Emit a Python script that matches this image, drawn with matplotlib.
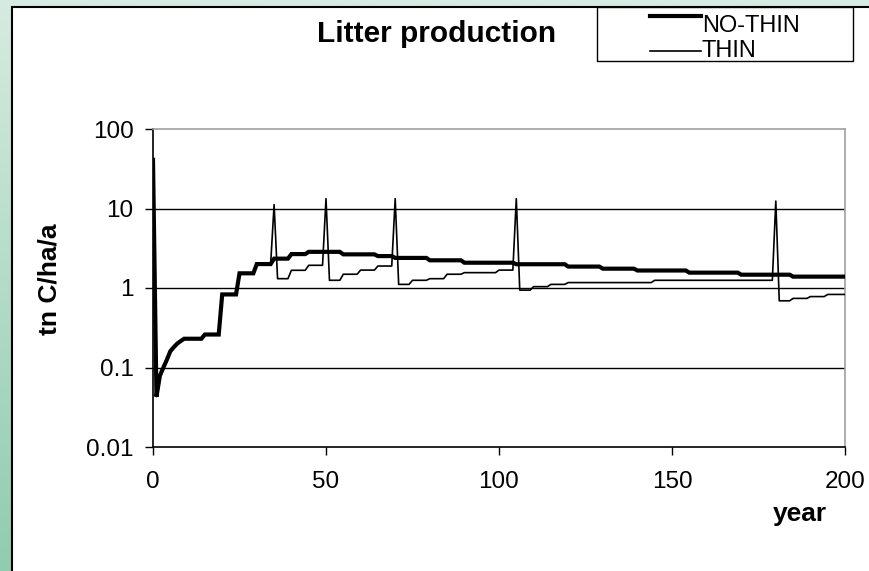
import numpy as np
import matplotlib
matplotlib.use("Agg")
import matplotlib.pyplot as plt
from matplotlib.patches import Rectangle
from matplotlib.lines import Line2D

plt.rcParams['font.family'] = ['Liberation Sans', 'DejaVu Sans']

# ---- data (vertices) ----
series_names = ["NO-THIN", "THIN"]

nothin_years = [0, 1, 2, 3, 4, 5, 6, 7, 8, 9, 14, 15, 19, 20, 24, 25, 29, 30, 34,
                35, 39, 40, 44, 45, 54, 55, 64, 65, 69, 70, 79, 80, 89, 90, 104,
                105, 119, 120, 129, 130, 139, 140, 154, 155, 169, 170, 184, 185, 200]
nothin_vals = [41, 0.043, 0.079, 0.10, 0.125, 0.16, 0.18, 0.20, 0.215, 0.23, 0.23, 0.26, 0.26,
               0.83, 0.83, 1.53, 1.53, 2.0, 2.0,
               2.34, 2.34, 2.67, 2.67, 2.85, 2.85, 2.65, 2.65, 2.52, 2.52, 2.39, 2.39,
               2.23, 2.23, 2.08, 2.08, 1.99, 1.99, 1.86, 1.86, 1.75, 1.75, 1.66, 1.66,
               1.56, 1.56, 1.47, 1.47, 1.39, 1.39]

thin_years = [0, 1, 2, 3, 4, 5, 6, 7, 8, 9, 14, 15, 19, 20, 24, 25, 29, 30, 34,
              35, 36, 39, 40, 44, 45, 49, 50, 51, 54, 55, 59, 60, 64, 65, 69, 70,
              71, 74, 75, 79, 80, 84, 85, 89, 90, 99, 100, 104, 105, 106, 109,
              110, 114, 115, 119, 120, 144, 145, 179, 180, 181, 184, 185, 189,
              190, 194, 195, 200]
thin_vals = [41, 0.043, 0.079, 0.10, 0.125, 0.16, 0.18, 0.20, 0.215, 0.23, 0.23, 0.26, 0.26,
             0.83, 0.83, 1.53, 1.53, 2.0, 2.0,
             11.2, 1.31, 1.31, 1.67, 1.67, 1.93, 1.93, 13.3, 1.25, 1.25, 1.49, 1.49,
             1.68, 1.68, 1.89, 1.89, 13.3,
             1.11, 1.11, 1.25, 1.25, 1.31, 1.31, 1.49, 1.49, 1.56, 1.56, 1.68, 1.68,
             13.3, 0.94, 0.94, 1.04, 1.04, 1.11, 1.11, 1.17, 1.17, 1.25, 1.25,
             12.4, 0.69, 0.69, 0.74, 0.74, 0.78, 0.78, 0.83, 0.83]

x_ticks = [0, 50, 100, 150, 200]
y_ticks = [0.01, 0.1, 1, 10, 100]
y_tick_labels = ["0.01", "0.1", "1", "10", "100"]

title = "Litter production"
y_label = "tn C/ha/a"
x_label = "year"

# ---- figure ----
W, H = 870, 571
fig = plt.figure(figsize=(W / 100, H / 100), dpi=100)

# green gradient background
bg = fig.add_axes([0, 0, 1, 1], zorder=-10)
top_c = np.array([214, 235, 225]) / 255
bot_c = np.array([144, 204, 176]) / 255
t = np.linspace(0, 1, 256)[:, None]
grad = top_c[None, :] * (1 - t) + bot_c[None, :] * t
bg.imshow(grad[:, None, :], aspect='auto', extent=[0, 1, 0, 1])
bg.set_axis_off()

# white chart area
fig.patches.append(Rectangle((12 / W, -0.1), 1.0, (H - 7) / H + 0.1,
                             transform=fig.transFigure, facecolor='white',
                             edgecolor='black', linewidth=1.5, zorder=-5))

ax = fig.add_axes([153 / W, (H - 447) / H, (845 - 153) / W, (447 - 129) / H])
ax.set_facecolor('none')
ax.set_yscale('log')
ax.set_xlim(0, 200)
ax.set_ylim(0.01, 100)

for yv in y_ticks[1:-1]:
    ax.axhline(yv, color='black', linewidth=1.0, zorder=1)

ax.plot(nothin_years, nothin_vals, color='black', linewidth=3.0, zorder=3,
        solid_joinstyle='miter')
ax.plot(thin_years, thin_vals, color='black', linewidth=1.2, zorder=4)

ax.set_xticks(x_ticks)
ax.set_xticklabels([str(v) for v in x_ticks])
ax.set_yticks(y_ticks)
ax.set_yticklabels(y_tick_labels)
ax.yaxis.set_minor_locator(matplotlib.ticker.NullLocator())
ax.tick_params(axis='both', direction='out', length=6, width=1, labelsize=17.5,
               color='black', labelcolor='black')
ax.tick_params(axis='x', pad=11)
ax.tick_params(axis='y', pad=8)

ax.spines['left'].set_color('black')
ax.spines['bottom'].set_color('black')
ax.spines['top'].set_color('#a0a0a0')
ax.spines['right'].set_color('#a0a0a0')
for s in ax.spines.values():
    s.set_linewidth(1.2)

# labels
fig.text(437 / W, (H - 42) / H, title, fontsize=21.5, fontweight='bold',
         ha='center', va='baseline')
fig.text(50 / W, (H - 279) / H, y_label, fontsize=19, fontweight='bold',
         rotation=90, ha='center', va='center')
fig.text(800 / W, (H - 514) / H, x_label, fontsize=19, fontweight='bold',
         ha='center', va='center')

# legend
fig.patches.append(Rectangle((597 / W, (H - 61) / H), 256 / W, 54 / H,
                             transform=fig.transFigure, facecolor='white',
                             edgecolor='black', linewidth=1.0, zorder=5))
leg_y_lines = [15.7, 51]
leg_y_text = [32, 57]
leg_lw = [3.0, 1.2]
for name, yl, yt, lw in zip(series_names, leg_y_lines, leg_y_text, leg_lw):
    fig.lines.append(Line2D([650 / W, 701 / W], [(H - yl) / H, (H - yl) / H],
                            transform=fig.transFigure, color='black',
                            linewidth=lw, zorder=6))
    fig.text(702 / W, (H - yt) / H, name, fontsize=17, ha='left',
             va='baseline', zorder=6)

fig.savefig("out.png", dpi=100)
